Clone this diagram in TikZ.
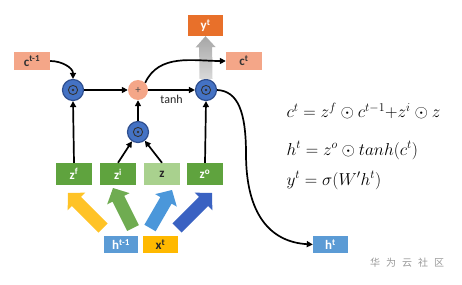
\documentclass[tikz,border=0pt]{standalone}
\usepackage{fontspec}
\setmainfont{Carlito}
\newfontfamily\cjk{Noto Sans CJK SC}
\usetikzlibrary{arrows.meta,calc}
\definecolor{csalmon}{HTML}{F4A688}
\definecolor{corange}{HTML}{E8702A}
\definecolor{cgreen}{HTML}{5FA33E}
\definecolor{clgreen}{HTML}{A9D18E}
\definecolor{chblue}{HTML}{5B9BD5}
\definecolor{cyellow}{HTML}{FFB900}
\definecolor{cdotblue}{HTML}{4472C4}
\definecolor{cdotdark}{HTML}{2F4F8F}
\definecolor{clblue}{HTML}{4B97DA}
\definecolor{cdblue}{HTML}{3A62C2}
\newcommand\fatarr[6]{%
  \coordinate (fa-h) at ($(#2)!#6!(#1)$);
  \path[#3] ($(#1)!#4!90:(#2)$) -- ($(fa-h)!#4!-90:(#1)$) -- ($(fa-h)!#5!-90:(#1)$) -- (#2)
    -- ($(fa-h)!#5!90:(#1)$) -- ($(fa-h)!#4!90:(#1)$) -- ($(#1)!#4!-90:(#2)$) -- cycle;}
\begin{document}
\begin{tikzpicture}[x=1pt,y=1pt,
  box/.style={minimum width=36pt,minimum height=18pt,inner sep=0pt,font=\bfseries\fontsize{13}{13}\selectfont},
  conn/.style={line width=1.7pt,-{Triangle[length=6pt,width=6pt]}},
  dotc/.style={circle,fill=cdotblue,draw=cdotdark,line width=1.2pt,minimum size=21pt,inner sep=0pt,
    path picture={\draw[line width=0.9pt,black!80] (path picture bounding box.center) circle (4.6pt);
      \fill[black!80] (path picture bounding box.center) circle (1.3pt);}},
  plusc/.style={circle,fill=csalmon,minimum size=20pt,inner sep=0pt,font=\fontsize{11}{11}\selectfont,text=black!70},
  eq/.style={anchor=base west,font=\fontsize{17}{17}\selectfont}]
\useasboundingbox (0,0) rectangle (462,284);
% boxes
\node[box,fill=csalmon,text=black!80] (ctm1) at (32,223) {c\textsuperscript{t-1}};
\node[box,fill=csalmon,text=black!80] (ct) at (244,223) {c\textsuperscript{t}};
\node[box,fill=corange,text=white,minimum width=35pt,minimum height=21pt] (yt) at (205.5,258.5) {y\textsuperscript{t}};
\node[box,fill=cgreen,text=white,minimum height=22pt] (zf) at (74,110) {z\textsuperscript{f}};
\node[box,fill=cgreen,text=white,minimum height=22pt] (zi) at (118,110) {z\textsuperscript{i}};
\node[box,fill=clgreen,text=black!85,minimum height=22pt] (z) at (162,110) {z};
\node[box,fill=cgreen,text=white,minimum height=22pt] (zo) at (205,110) {z\textsuperscript{o}};
\node[box,fill=chblue,text=white,minimum width=34pt,minimum height=17pt] (htm1) at (121,39.5) {h\textsuperscript{t-1}};
\node[box,fill=cyellow,text=black!85,minimum width=35pt,minimum height=17pt] (xt) at (160.5,39.5) {x\textsuperscript{t}};
\node[box,fill=chblue,text=white,minimum width=35pt,minimum height=17pt] (ht) at (330.5,39.5) {h\textsuperscript{t}};
% operators
\node[dotc] (o1) at (73,194) {};
\node[plusc] (pl) at (138,194) {+};
\node[dotc] (o3) at (206,194) {};
\node[dotc] (o2) at (138,152) {};
% gray output arrow
\fatarr{o3.north}{yt.south}{top color=gray!70,bottom color=gray!30}{6.5pt}{10pt}{11pt}
% fat input arrows
\coordinate (ty) at (103,56); \coordinate (hy) at (68,91);
\coordinate (tg) at (133,56); \coordinate (hg) at (113,96);
\coordinate (tb) at (150,56); \coordinate (hb) at (172,94);
\coordinate (td) at (177,56); \coordinate (hd) at (212,91);
\fatarr{ty}{hy}{fill=cyellow!85}{6.5pt}{12.5pt}{12pt}
\fatarr{tg}{hg}{fill=cgreen!90}{6.5pt}{12.5pt}{12pt}
\fatarr{tb}{hb}{fill=clblue}{6.5pt}{12.5pt}{12pt}
\fatarr{td}{hd}{fill=cdblue}{6.5pt}{12.5pt}{12pt}
% connectors
\draw[conn] (ctm1.east) to[out=0,in=90] (o1.north);
\draw[conn] (zf.north) -- (o1.south);
\draw[conn] (zo.north) -- (o3.south);
\draw[conn] (zi.north) -- (o2);
\draw[conn] (z.north) -- (o2);
\draw[conn] (o2.north) -- (pl.south);
\draw[conn] (o1.east) -- (pl.west);
\draw[conn] (pl.east) -- node[below=1pt,font=\fontsize{12}{12}\selectfont,text=black!85] (tanh) {tanh} (o3.west);
\draw[conn] (pl.north east) to[out=65,in=180] (ct.west);
\draw[conn] (o3.east) .. controls (238,193) and (246,172) .. (246,130) .. controls (246,70) and (270,42) .. (ht.west);
% equations
\node[eq] (e1) at (283,166) {$c^t = z^f\odot c^{t-1}{+}z^i\odot z$};
\node[eq] (e2) at (283,129) {$h^t = z^o\odot tanh(c^t)$};
\node[eq] (e3) at (283,99) {$y^t = \sigma(W'h^t)$};
% watermark
\node[font=\cjk\fontsize{10}{10}\selectfont,text=black!40] (wm) at (407,21) {华\hspace{6pt}为\hspace{6pt}云\hspace{6pt}社\hspace{6pt}区};
\end{tikzpicture}
\end{document}
